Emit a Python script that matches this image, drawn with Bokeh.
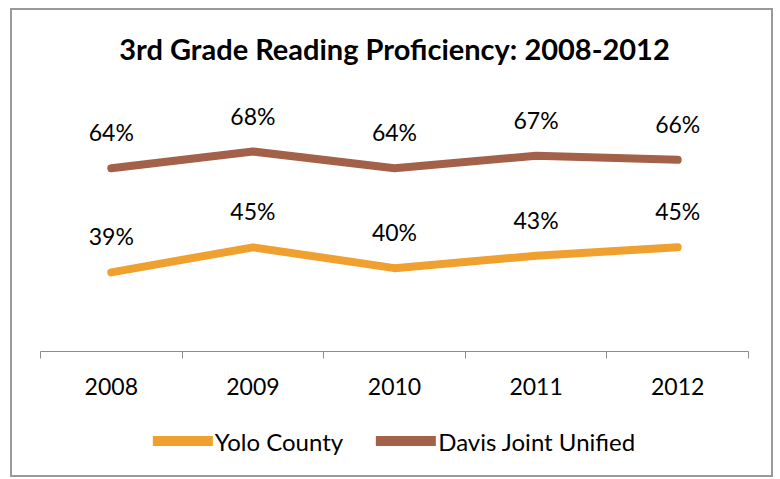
from bokeh.plotting import figure
from bokeh.layouts import column
from bokeh.models import (ColumnDataSource, FixedTicker, LabelSet, Legend, LegendItem, Range1d)
from bokeh.core.properties import value
from bokeh.embed import file_html
from bokeh.resources import INLINE

title_text = "3rd Grade Reading Proficiency: 2008-2012"
years = ["2008", "2009", "2010", "2011", "2012"]
yolo = [39, 45, 40, 43, 45]
davis = [64, 68, 64, 67, 66]
series_names = ["Yolo County", "Davis Joint Unified"]
colors = ["#F0A02F", "#A3614A"]

xs = [i + 0.5 for i in range(len(years))]
series = [yolo, davis]
FONT = "Lato"
W = 759


def bare(fig):
    fig.outline_line_color = None
    fig.xgrid.visible = False
    fig.ygrid.visible = False
    fig.background_fill_color = "white"
    fig.border_fill_color = "white"


# title strip
tt = figure(width=W, height=91, x_range=Range1d(0, 1), y_range=Range1d(0, 1),
            output_backend="svg", toolbar_location=None, x_axis_location=None, y_axis_location=None,
            min_border=0)
bare(tt)
tt.title.text = title_text
tt.title.align = "center"
tt.title.vertical_align = "top"
tt.title.text_font = FONT
tt.title.text_font_size = "29px"
tt.title.text_font_style = "bold"
tt.title.text_color = "black"
tt.title.standoff = 40

# main chart
p = figure(width=W, height=305, x_range=Range1d(0, len(years)), y_range=Range1d(20, 80),
           output_backend="svg", toolbar_location=None, y_axis_location=None,
           min_border_left=28, min_border_right=23, min_border_top=0, min_border_bottom=55)
bare(p)

ax = p.xaxis[0]
ax.ticker = FixedTicker(ticks=xs, minor_ticks=list(range(len(years) + 1)))
ax.major_label_overrides = {x: y for x, y in zip(xs, years)}
ax.major_tick_line_color = None
ax.major_tick_in = 0
ax.major_tick_out = 0
ax.minor_tick_in = 0
ax.minor_tick_out = 7
ax.minor_tick_line_color = "#8c8c8c"
ax.axis_line_color = "#8c8c8c"
ax.major_label_standoff = 19
ax.major_label_text_font = FONT
ax.major_label_text_font_size = "23px"
ax.major_label_text_color = "black"

for vals, col in zip(series, colors):
    src = ColumnDataSource(dict(x=xs, y=vals, lab=[f"{v}%" for v in vals]))
    p.line("x", "y", source=src, line_color=col, line_width=8, line_cap="round", line_join="round")
    p.add_layout(LabelSet(x="x", y="y", text="lab", source=src, y_offset=36, text_align="center",
                          text_baseline="middle", text_font=value(FONT), text_font_size="23px",
                          text_color="black"))

# legend strip below the chart (its ranges keep the series lines out of view)
lg = figure(width=W, height=69, x_range=Range1d(0, 1), y_range=Range1d(0, 1),
            output_backend="svg", toolbar_location=None, x_axis_location=None, y_axis_location=None,
            min_border=0)
bare(lg)
items = []
for name, vals, col in zip(series_names, series, colors):
    r = lg.line(x=xs, y=vals, line_color=col, line_width=10, line_cap="round")
    items.append(LegendItem(label=name, renderers=[r]))
legend = Legend(items=items, orientation="horizontal", location="center", glyph_width=60,
                glyph_height=24, label_standoff=2, spacing=33, label_text_font=FONT,
                label_text_font_size="24px", label_text_color="black", border_line_color=None,
                margin=0, padding=0, background_fill_alpha=0)
lg.add_layout(legend, "center")

layout = column(tt, p, lg, spacing=0)
layout.styles = {"border": "2px solid #9a9a9a", "margin": "8px 0 0 10px"}

open("out.html", "w").write(file_html(layout, INLINE))
